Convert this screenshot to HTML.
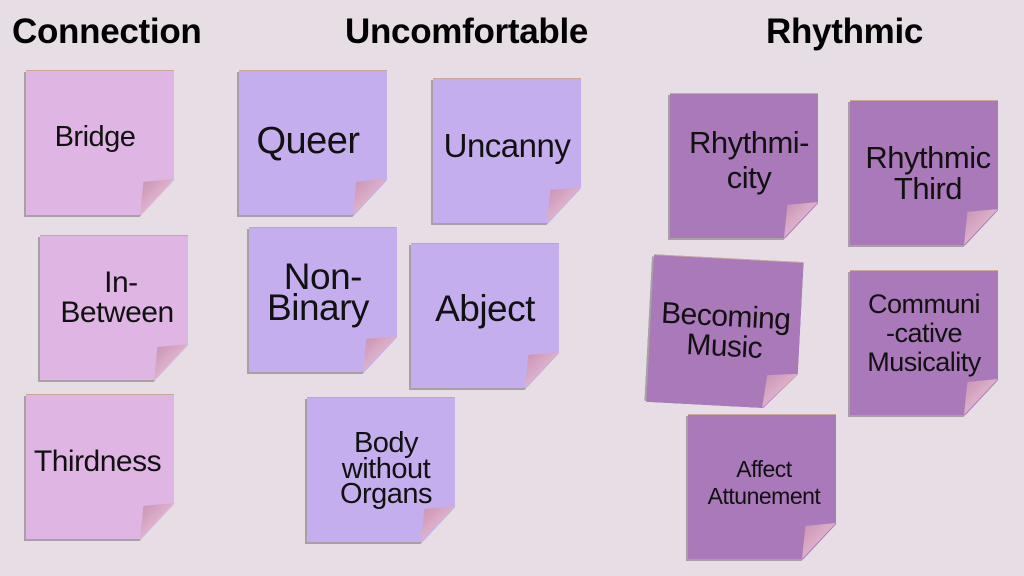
<!DOCTYPE html>
<html><head><meta charset="utf-8"><style>
body{margin:0;width:1024px;height:576px;background:#e7dde5;position:relative;overflow:hidden;font-family:"Liberation Sans",sans-serif}
.t{position:absolute;top:12px;font-weight:bold;font-size:35px;color:#000;letter-spacing:-0.3px}
.n{position:absolute;width:148px;height:145px}
.n .b{position:absolute;inset:0;clip-path:polygon(0 0,100% 0,100% 76%,78% 100%,0 100%);border-top:1px solid #c9a89a}
.n .s{position:absolute;left:-2px;top:2px;width:148px;height:145px;background:#a9a0a5;clip-path:polygon(0 0,100% 0,100% 76%,78% 100%,0 100%)}
.n .f{position:absolute;right:0;bottom:0;width:34px;height:36px;clip-path:polygon(100% 0,0 100%,10% 8%);background:linear-gradient(135deg,#c88fb0,#f1d2e4)}
.n .x{position:absolute;inset:0;display:flex;flex-direction:column;justify-content:center;align-items:center;text-align:center;color:#111;line-height:1.0;letter-spacing:-0.5px}
.c .b{background:#dfb6e3}.u .b{background:#c5aeee}.r .b{background:#a979ba}
</style></head><body>
<div class="t" style="left:12px">Connection</div>
<div class="t" style="left:345px">Uncomfortable</div>
<div class="t" style="left:766px">Rhythmic</div>

<div class="n c" style="left:26px;top:70px"><div class="s"></div><div class="b"></div><div class="f"></div><div class="x" style="font-size:29px;padding:0 10px 10px 0">Bridge</div></div>
<div class="n c" style="left:40px;top:235px"><div class="s"></div><div class="b"></div><div class="f"></div><div class="x" style="font-size:30px;padding:0 0 20px 6px">&nbsp;In-<br>Between</div></div>
<div class="n c" style="left:26px;top:394px"><div class="s"></div><div class="b"></div><div class="f"></div><div class="x" style="font-size:30px;padding:0 0 10px 0;margin-left:-5px">Thirdness</div></div>

<div class="n u" style="left:239px;top:70px"><div class="s"></div><div class="b"></div><div class="f"></div><div class="x" style="font-size:38px;padding:0 10px 4px 0">Queer</div></div>
<div class="n u" style="left:433px;top:78px"><div class="s"></div><div class="b"></div><div class="f"></div><div class="x" style="font-size:33px;padding:0 0 10px 0">Uncanny</div></div>
<div class="n u" style="left:249px;top:227px"><div class="s"></div><div class="b"></div><div class="f"></div><div class="x" style="font-size:37px;padding:0 10px 15px 0;line-height:0.85">&nbsp;Non-<br>Binary</div></div>
<div class="n u" style="left:411px;top:243px"><div class="s"></div><div class="b"></div><div class="f"></div><div class="x" style="font-size:37px;padding:0 0 14px 0">Abject</div></div>
<div class="n u" style="left:307px;top:397px"><div class="s"></div><div class="b"></div><div class="f"></div><div class="x" style="font-size:29px;padding:0 0 0 10px;line-height:0.88">Body<br>without<br>Organs</div></div>

<div class="n r" style="left:670px;top:93px"><div class="s"></div><div class="b"></div><div class="f"></div><div class="x" style="font-size:31px;padding:0 0 10px 10px;line-height:1.12">Rhythmi-<br>city</div></div>
<div class="n r" style="left:850px;top:100px"><div class="s"></div><div class="b"></div><div class="f"></div><div class="x" style="font-size:31px;padding:0 0 0 8px">Rhythmic<br>Third</div></div>
<div class="n r" style="left:650px;top:258px;width:150px;height:148px;transform:rotate(3deg)"><div class="s"></div><div class="b"></div><div class="f"></div><div class="x" style="font-size:30px;padding:0 0 0 0">Becoming<br>Music</div></div>
<div class="n r" style="left:850px;top:270px"><div class="s"></div><div class="b"></div><div class="f"></div><div class="x" style="font-size:27px;padding:0 0 18px 0;line-height:1.08">Communi<br>-cative<br>Musicality</div></div>
<div class="n r" style="left:688px;top:414px"><div class="s"></div><div class="b"></div><div class="f"></div><div class="x" style="font-size:23px;padding:0 0 8px 4px;line-height:1.15">Affect<br>Attunement</div></div>
</body></html>
